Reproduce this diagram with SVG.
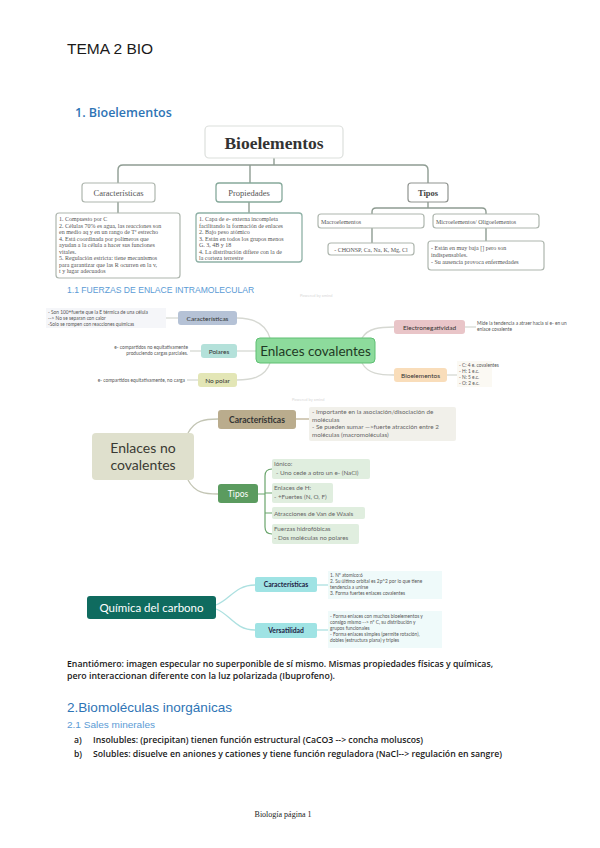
<svg xmlns="http://www.w3.org/2000/svg" width="600" height="848" viewBox="0 0 600 848">
<style>
.doc{font-family:"Liberation Sans","Open Sans",sans-serif;fill:#1a1a1a}
.body{font-family:"Open Sans","Liberation Sans",sans-serif;font-weight:600;fill:#1a1a1a}
.h{fill:#2e74b5}
.h2{fill:#5b9bd5}
.sf{font-family:"Liberation Serif","DejaVu Serif",serif}
.bx{fill:#fff;stroke:#aeb6ae;stroke-width:1.2}
.bcon{fill:none;stroke:#8e9c92;stroke-width:1.4}
.dt{font-family:"Liberation Serif","DejaVu Serif",serif;font-size:6px;fill:#555}
.xm{font-family:Lato,"Open Sans",sans-serif}
.lf{font-family:Lato,"Open Sans",sans-serif;font-size:4.8px;fill:#555}
.cc{fill:none;stroke:#d6d8d2;stroke-width:1.3}
.nc{fill:none;stroke:#c3c5b4;stroke-width:1.3}
.qc{fill:none;stroke:#ace0e0;stroke-width:1.3}
.wm{font-family:Lato,sans-serif;font-size:4px;fill:#d8d8d8}
</style>
<rect width="600" height="848" fill="#fff"/>

<text class="doc" x="67" y="54" font-size="15.5">TEMA 2 BIO</text>
<text class="body h" x="75" y="117" font-size="12.5">1.  Bioelementos</text>

<!-- Bioelementos diagram -->
<g id="bio-connectors">
<path class="bcon" d="M274 158 V165"/>
<path class="bcon" d="M118 183 V170 Q118 165 123 165 H423 Q428 165 428 170 V183"/>
<path class="bcon" d="M250 165 V183"/>
<path class="bcon" d="M118 202 V214"/>
<path class="bcon" d="M249 202 V214"/>
<path class="bcon" d="M428 202 V208"/>
<path class="bcon" d="M372 214 V212 Q372 208 376 208 H482 Q486 208 486 212 V214"/>
<path class="bcon" d="M372 228 V243"/>
<path class="bcon" d="M486 228 V241"/>
</g>
<g id="bio-title">
<rect x="205" y="126" width="138" height="32" rx="4" fill="#fff" stroke="#dcdfdc" stroke-width="1.2"/>
<text class="sf" x="274" y="149" font-size="17.5" font-weight="bold" fill="#333" text-anchor="middle">Bioelementos</text>
</g>
<g id="bio-caracteristicas">
<rect class="bx" x="82" y="183" width="73" height="19" rx="3"/>
<text class="sf" x="118.5" y="195.5" font-size="8.5" fill="#555" text-anchor="middle">Características</text>
</g>
<g id="bio-propiedades">
<rect x="216" y="183" width="66" height="19" rx="3" fill="#fff" stroke="#86a99b" stroke-width="1.3"/>
<text class="sf" x="249" y="195.5" font-size="8.5" fill="#555" text-anchor="middle">Propiedades</text>
</g>
<g id="bio-tipos">
<rect x="408" y="183" width="40" height="19" rx="3" fill="#fff" stroke="#8f938f" stroke-width="1.2"/>
<text class="sf" x="428" y="195.5" font-size="8.5" fill="#444" font-weight="bold" text-anchor="middle">Tipos</text>
</g>
<g id="bio-car-detail">
<rect class="bx" x="56" y="213" width="124" height="65" rx="3"/>
<text class="dt"><tspan x="59" y="221">1. Compuesto por C</tspan><tspan x="59" y="227.5">2. Células 70% es agua, las reacciones son</tspan><tspan x="59" y="234">en medio aq y en un rango de Tª estrecho</tspan><tspan x="59" y="240.5">4. Está coordinada por polímeros que</tspan><tspan x="59" y="247">ayudan a la célula a hacer sus funciones</tspan><tspan x="59" y="253.5">vitales.</tspan><tspan x="59" y="260">5. Regulación estricta: tiene mecanismos</tspan><tspan x="59" y="266.5">para garantizar que las R ocurren en la v,</tspan><tspan x="59" y="273">t y lugar adecuados</tspan></text>
</g>
<g id="bio-prop-detail">
<rect x="196" y="213" width="106" height="49" rx="3" fill="#fff" stroke="#8fb1a6" stroke-width="1.3"/>
<text class="dt"><tspan x="199" y="221">1. Capa de e- externa incompleta</tspan><tspan x="199" y="227.5">facilitando la formación de enlaces</tspan><tspan x="199" y="234">2. Bajo peso atómico</tspan><tspan x="199" y="240.5">3. Están en todos los grupos menos</tspan><tspan x="199" y="247">G. 3, 4B y 18</tspan><tspan x="199" y="253.5">4. La distribución difiere con la de</tspan><tspan x="199" y="260">la corteza terrestre</tspan></text>
</g>
<g id="bio-macro">
<rect class="bx" x="318" y="214" width="106" height="14" rx="3"/>
<text class="dt" x="321" y="223.5">Macroelementos</text>
</g>
<g id="bio-micro">
<rect class="bx" x="433" y="214" width="106" height="14" rx="3"/>
<text class="dt" x="436" y="223.5">Microelementos/ Oligoelementos</text>
</g>
<g id="bio-chonsp">
<rect class="bx" x="328" y="243" width="86" height="12" rx="3"/>
<text class="dt" x="371" y="251.5" text-anchor="middle">- CHONSP, Ca, Na, K, Mg, Cl</text>
</g>
<g id="bio-micro-detail">
<rect class="bx" x="428" y="241" width="116" height="29" rx="3"/>
<text class="dt"><tspan x="431" y="250">- Están en muy baja [] pero son</tspan><tspan x="431" y="257">indispensables.</tspan><tspan x="431" y="264">- Su ausencia provoca enfermedades</tspan></text>
</g>

<text class="doc h2" x="67" y="293" font-size="8.6">1.1 FUERZAS DE ENLACE INTRAMOLECULAR</text>
<text class="wm" x="300" y="297">Powered by xmind</text>

<!-- Enlaces covalentes -->
<g id="cov-connectors">
<path class="cc" d="M270 338 C265 322 250 318 237 318"/>
<path class="cc" d="M256 351 H237"/>
<path class="cc" d="M270 363 C265 378 250 380 237 380"/>
<path class="cc" d="M362 338 C368 328 380 327 394 327"/>
<path class="cc" d="M362 363 C368 374 380 375 394 375"/>
<path class="cc" d="M178 318 H166"/>
<path class="cc" d="M201 351 H190"/>
<path class="cc" d="M198 380 H187"/>
<path class="cc" d="M465 327 H476"/>
<path class="cc" d="M447 375 H458"/>
</g>
<g id="cov-center">
<rect x="256" y="338" width="119" height="25" rx="4" fill="#8ddb9c" stroke="#5fbf73" stroke-width="1"/>
<text class="xm" x="315.5" y="355.5" font-size="13.5" fill="#1f3a24" text-anchor="middle">Enlaces covalentes</text>
</g>
<g id="cov-car">
<rect x="178" y="311" width="59" height="14" rx="3" fill="#b5c2d6"/>
<text class="xm" x="207.5" y="320.5" font-size="6.5" fill="#333" text-anchor="middle">Características</text>
</g>
<g id="cov-car-leaf">
<rect x="46" y="308" width="120" height="20" fill="#f5f6f9"/>
<text class="lf"><tspan x="48" y="314">- Son 100+fuerte que la E térmica de una célula</tspan><tspan x="48" y="320">--&gt; No se separan con calor</tspan><tspan x="48" y="326">-Solo se rompen con reacciones químicas</tspan></text>
</g>
<g id="cov-polares">
<rect x="201" y="344" width="36" height="14" rx="3" fill="#b4e1da"/>
<text class="xm" x="219" y="353.5" font-size="6.5" fill="#333" text-anchor="middle">Polares</text>
</g>
<g id="cov-polares-leaf">
<text class="lf" text-anchor="end"><tspan x="188" y="349">e- compartidos no equitativamente</tspan><tspan x="188" y="355">produciendo cargas parciales.</tspan></text>
</g>
<g id="cov-nopolar">
<rect x="198" y="373" width="39" height="14" rx="3" fill="#e3e6b6"/>
<text class="xm" x="217.5" y="382.5" font-size="6.5" fill="#333" text-anchor="middle">No polar</text>
</g>
<g id="cov-nopolar-leaf">
<text class="lf" x="185" y="382" text-anchor="end">e- compartidos equitativamente, no carga</text>
</g>
<g id="cov-electroneg">
<rect x="394" y="320" width="71" height="14" rx="3" fill="#e9c5c8"/>
<text class="xm" x="429.5" y="329.5" font-size="6.5" fill="#333" text-anchor="middle">Electronegatividad</text>
</g>
<g id="cov-electroneg-leaf">
<text class="lf"><tspan x="477" y="325">Mide la tendencia a atraer hacia sí e- en un</tspan><tspan x="477" y="331">enlace covalente</tspan></text>
</g>
<g id="cov-bioel">
<rect x="394" y="368" width="53" height="14" rx="3" fill="#f9ddba"/>
<text class="xm" x="420.5" y="377.5" font-size="6.5" fill="#333" text-anchor="middle">Bioelementos</text>
</g>
<g id="cov-bioel-leaf">
<rect x="457" y="361" width="35" height="26" fill="#fbf9f3"/>
<text class="lf"><tspan x="459" y="367">- C: 4 e. covalentes</tspan><tspan x="459" y="373">- H: 1 e.c.</tspan><tspan x="459" y="379">- N: 5 e.c.</tspan><tspan x="459" y="385">- O: 2 e.c.</tspan></text>
</g>

<text class="wm" x="292" y="401">Powered by xmind</text>

<!-- Enlaces no covalentes -->
<g id="nc-connectors">
<path class="nc" d="M188 433 C195 420 205 419 218 419"/>
<path class="nc" d="M188 480 C195 493 205 494 218 494"/>
<path fill="none" stroke="#b8ab8c" stroke-width="1.2" d="M296 419 H309"/>
<path fill="none" stroke="#6aa56c" stroke-width="1.2" d="M258 494 H265 M272 469 Q265 469 265 476 V527 Q265 534 272 534 M265 493 H272 M265 513 H272"/>
</g>
<g id="nc-center">
<rect x="92" y="433" width="102" height="47" rx="4" fill="#dfe0cd"/>
<text class="xm" x="143" y="453" font-size="14" fill="#3a3a33" text-anchor="middle">Enlaces no</text>
<text class="xm" x="143" y="470" font-size="14" fill="#3a3a33" text-anchor="middle">covalentes</text>
</g>
<g id="nc-car">
<rect x="218" y="410" width="78" height="19" rx="3" fill="#baac8d"/>
<text class="xm" x="257" y="422.5" font-size="8.5" font-weight="bold" fill="#333" text-anchor="middle">Características</text>
</g>
<g id="nc-car-leaf">
<rect x="309" y="407" width="147" height="34" rx="2" fill="#f1f0ea"/>
<text class="xm" font-size="6.3" fill="#666"><tspan x="312" y="414">- Importante en la asociación/disociación de</tspan><tspan x="312" y="421.5">moléculas</tspan><tspan x="312" y="429">- Se pueden sumar —&gt;fuerte atracción entre 2</tspan><tspan x="312" y="436.5">moléculas (macromoléculas)</tspan></text>
</g>
<g id="nc-tipos">
<rect x="218" y="484" width="40" height="19" rx="3" fill="#5b9b5f"/>
<text class="xm" x="238" y="496.5" font-size="8.5" fill="#fff" text-anchor="middle">Tipos</text>
</g>
<g id="nc-ionico">
<rect x="272" y="459" width="98" height="20" rx="2" fill="#e0eedf"/>
<text class="xm" font-size="6.3" fill="#666"><tspan x="274" y="466">Iónico:</tspan><tspan x="276" y="475">- Uno cede a otro un e- (NaCl)</tspan></text>
</g>
<g id="nc-hidrogeno">
<rect x="272" y="483" width="61" height="20" rx="2" fill="#e0eedf"/>
<text class="xm" font-size="6.3" fill="#666"><tspan x="274" y="490">Enlaces de H:</tspan><tspan x="274" y="499">- +Fuertes (N, O, F)</tspan></text>
</g>
<g id="nc-vdw">
<rect x="272" y="507" width="93" height="12" rx="2" fill="#e0eedf"/>
<text class="xm" x="274" y="515.5" font-size="6.3" fill="#666">Atracciones de Van de Waals</text>
</g>
<g id="nc-hidrof">
<rect x="272" y="524" width="87" height="20" rx="2" fill="#e0eedf"/>
<text class="xm" font-size="6.3" fill="#666"><tspan x="274" y="531">Fuerzas hidrofóbicas</tspan><tspan x="274" y="540">- Dos moléculas no polares</tspan></text>
</g>

<!-- Química del carbono -->
<g id="qc-connectors">
<path class="qc" d="M216 605 C230 600 235 585 255 585"/>
<path class="qc" d="M216 609 C230 614 235 630 255 630"/>
<path class="qc" d="M317 585 H328"/>
<path class="qc" d="M317 630 H328"/>
</g>
<g id="qc-main">
<rect x="87" y="596" width="129" height="23" rx="3" fill="#0f6b5f"/>
<text class="xm" x="151.5" y="611.5" font-size="11.5" fill="#fff" text-anchor="middle">Química del carbono</text>
</g>
<g id="qc-car">
<rect x="255" y="577" width="62" height="15" rx="2" fill="#9fe3e4"/>
<text class="xm" x="286" y="587" font-size="6.8" font-weight="bold" fill="#224" text-anchor="middle">Características</text>
</g>
<g id="qc-car-leaf">
<rect x="328" y="571" width="114" height="28" fill="#effafa"/>
<text class="lf"><tspan x="330" y="577">1. Nº atomico:6</tspan><tspan x="330" y="583">2. Su último orbital es 2p^2 por lo que tiene</tspan><tspan x="330" y="589">tendencia a unirse</tspan><tspan x="330" y="595">3. Forma fuertes enlaces covalentes</tspan></text>
</g>
<g id="qc-vers">
<rect x="255" y="623" width="62" height="15" rx="2" fill="#9fe3e4"/>
<text class="xm" x="286" y="633" font-size="6.8" font-weight="bold" fill="#224" text-anchor="middle">Versatilidad</text>
</g>
<g id="qc-vers-leaf">
<rect x="328" y="611" width="114" height="37" fill="#effafa"/>
<text class="lf"><tspan x="330" y="618">- Forma enlaces con muchos bioelementos y</tspan><tspan x="330" y="624">consigo mismo --&gt; nº C, su distribución y</tspan><tspan x="330" y="630">grupos funcionales</tspan><tspan x="330" y="636">- Forma enlaces simples (permite rotación),</tspan><tspan x="330" y="642">dobles (estructura plana) y triples</tspan></text>
</g>

<!-- Body text -->
<text class="body" x="67" y="667" font-size="8.6" textLength="426" lengthAdjust="spacingAndGlyphs">Enantiómero: imagen especular no superponible de sí mismo. Mismas propiedades físicas y químicas,</text>
<text class="body" x="67" y="679" font-size="8.6" textLength="268" lengthAdjust="spacingAndGlyphs">pero interaccionan diferente con la luz polarizada (Ibuprofeno).</text>
<text class="doc h" x="67" y="712" font-size="13.5" textLength="165" lengthAdjust="spacingAndGlyphs">2.Biomoléculas inorgánicas</text>
<text class="doc h2" x="67" y="728" font-size="9.5" textLength="88" lengthAdjust="spacingAndGlyphs">2.1 Sales minerales</text>
<text class="body" x="74" y="743" font-size="8.6">a)</text>
<text class="body" x="93" y="743" font-size="8.6" textLength="330" lengthAdjust="spacingAndGlyphs">Insolubles: (precipitan) tienen función estructural (CaCO3 --&gt; concha moluscos)</text>
<text class="body" x="74" y="757" font-size="8.6">b)</text>
<text class="body" x="93" y="757" font-size="8.6" textLength="409" lengthAdjust="spacingAndGlyphs">Solubles: disuelve en aniones y cationes y tiene función reguladora (NaCl--&gt; regulación en sangre)</text>

<text class="sf" x="283" y="817" font-size="8" fill="#222" text-anchor="middle">Biología página 1</text>
</svg>
